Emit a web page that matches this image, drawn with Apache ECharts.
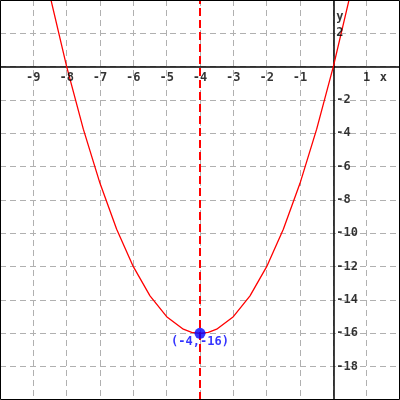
<!DOCTYPE html>
<html>
<head>
<meta charset="utf-8">
<script src="https://cdn.jsdelivr.net/npm/echarts@6/dist/echarts.min.js"></script>
<style>html,body{margin:0;padding:0;background:#fff}#c{width:400px;height:400px}</style>
</head>
<body>
<div id="c"></div>
<script>
// Data
var curveX = [-9, -8.5, -8, -7.5, -7, -6.5, -6, -5.5, -5, -4.5, -4.25, -4, -3.75, -3.5, -3, -2.5, -2, -1.5, -1, -0.5, 0, 0.5, 1];
var curveY = [9, 4.25, 0, -3.75, -7, -9.75, -12, -13.75, -15, -15.75, -15.94, -16, -15.94, -15.75, -15, -13.75, -12, -9.75, -7, -3.75, 0, 4.25, 9];
var symmetryX = -4;
var vertex = [-4, -16];
var vertexLabel = '(-4,-16)';
var xMin = -10, xMax = 2, xStep = 1;
var yMin = -20, yMax = 4, yStep = 2;
var xTickLabels = [-9, -8, -7, -6, -5, -4, -3, -2, -1, 1];
var yTickLabels = [2, -2, -4, -6, -8, -10, -12, -14, -16, -18];
var xName = 'x', yName = 'y';
var xNamePos = [1.5, 0];
var yNamePos = [0, 3];

var font = 'DejaVu Sans Mono';
var chart = echarts.init(document.getElementById('c'), null, {renderer: 'canvas'});
var curveData = curveX.map(function (x, i) { return [x, curveY[i]]; });
var labelStyle = {color: '#000', fontFamily: font, fontWeight: 'bold', fontSize: 12};

function labelSeries(points, texts, position, distance) {
  return {
    type: 'scatter', symbolSize: 0, z: 6, silent: true,
    data: points.map(function (p, i) { return {value: p, name: String(texts[i])}; }),
    label: Object.assign({show: true, position: position, distance: distance,
      formatter: function (p) { return p.name; }}, labelStyle)
  };
}

chart.setOption({
  animation: false,
  backgroundColor: '#ffffff',
  grid: {left: 0, right: 0, top: 0, bottom: 0, containLabel: false, outerBoundsMode: 'none'},
  xAxis: {
    type: 'value', min: xMin, max: xMax, interval: xStep,
    axisLine: {onZero: true, lineStyle: {color: '#000', width: 1.5}},
    axisTick: {show: false},
    axisLabel: {show: false},
    splitLine: {show: true, lineStyle: {color: '#b0b0b0', type: [6, 4], width: 1}}
  },
  yAxis: {
    type: 'value', min: yMin, max: yMax, interval: yStep,
    axisLine: {onZero: true, lineStyle: {color: '#000', width: 1.5}},
    axisTick: {show: false},
    axisLabel: {show: false},
    splitLine: {show: true, lineStyle: {color: '#b0b0b0', type: [6, 4], width: 1}}
  },
  series: [
    {
      type: 'line', data: curveData, showSymbol: false, smooth: false, clip: true,
      lineStyle: {color: '#ff0000', width: 1.3}, z: 3,
      markLine: {
        silent: true, symbol: 'none', label: {show: false},
        lineStyle: {color: '#ff0000', type: [8, 4], width: 2},
        data: [{xAxis: symmetryX}]
      }
    },
    {
      type: 'scatter', data: [vertex], symbolSize: 11, z: 5,
      itemStyle: {color: '#0000ff'},
      label: {
        show: true, position: 'bottom', distance: 0, offset: [0, -3], formatter: vertexLabel,
        color: '#0000ff', fontFamily: font, fontWeight: 'bold', fontSize: 12
      }
    },
    labelSeries(xTickLabels.map(function (v) { return [v, 0]; }), xTickLabels, 'bottom', 5),
    labelSeries(yTickLabels.map(function (v) { return [0, v]; }), yTickLabels, 'right', 3),
    labelSeries([xNamePos], [xName], 'bottom', 5),
    labelSeries([yNamePos], [yName], 'right', 3)
  ],
  graphic: [{
    type: 'rect', z: 100, silent: true,
    shape: {x: 0.5, y: 0.5, width: 399, height: 399},
    style: {fill: null, stroke: '#000', lineWidth: 1}
  }]
});
</script>
</body>
</html>
